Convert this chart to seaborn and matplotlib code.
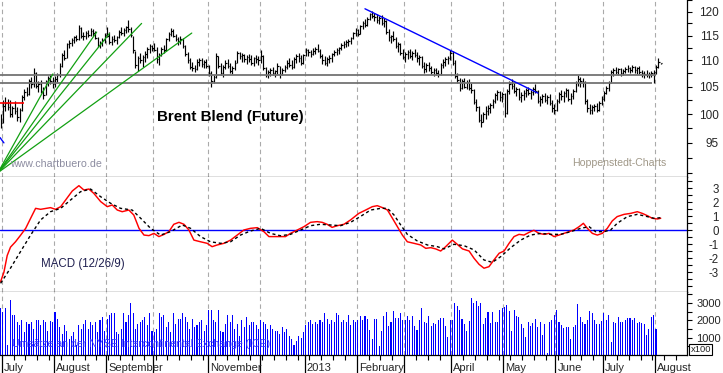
import matplotlib
matplotlib.use("Agg")
import matplotlib.pyplot as plt
import matplotlib.transforms as mtransforms
from matplotlib.ticker import FixedLocator, NullFormatter, FixedFormatter
import seaborn as sns
import numpy as np

sns.set_style("white")
plt.rcParams['font.family'] = ['Liberation Sans', 'DejaVu Sans']

# daily bars, Brent Blend future, end of June 2012 to start of August 2013
high = [
    100.0, 102.5, 103.0, 102.8, 102.5, 101.5, 102.3, 101.2, 101.0, 103.5,
    104.5, 105.0, 106.5, 106.8, 108.5, 107.8, 106.0, 106.2, 105.0, 106.2,
    107.0, 107.3, 106.8, 107.0, 107.5, 109.5, 111.5, 112.0, 113.5, 114.0,
    114.5, 115.0, 115.2, 117.2, 116.8, 115.8, 116.0, 116.2, 116.5, 116.3,
    116.0, 114.6, 113.8, 114.5, 115.5, 116.8, 115.8, 114.8, 115.2, 115.0,
    116.2, 116.8, 116.5, 117.0, 118.2, 116.8, 115.0, 111.8, 110.8, 111.5,
    111.0, 111.8, 112.6, 113.2, 113.0, 113.5, 112.6, 111.5, 112.6, 113.0,
    114.5, 115.8, 116.5, 116.3, 115.4, 114.6, 114.8, 114.5, 113.0, 111.6,
    110.4, 109.8, 109.2, 110.2, 110.5, 110.4, 110.0, 110.3, 109.2, 108.0,
    107.2, 111.5, 110.8, 109.6, 109.2, 110.0, 110.2, 109.6, 109.0, 110.0,
    111.8, 111.6, 111.4, 111.2, 111.0, 111.2, 111.0, 110.6, 111.0, 110.8,
    112.0, 111.0, 108.8, 108.2, 108.6, 108.8, 108.2, 109.6, 109.0, 108.6,
    109.2, 110.0, 110.4, 110.0, 110.6, 111.2, 111.4, 111.0, 111.2, 112.4,
    112.2, 112.0, 112.4, 112.6, 113.2, 112.2, 111.2, 110.8, 110.6, 111.0,
    111.4, 112.0, 112.4, 112.6, 113.4, 113.8, 114.0, 114.2, 114.6, 115.8,
    116.6, 116.4, 117.2, 118.0, 118.4, 118.8, 119.8, 120.2, 119.6, 119.4,
    119.0, 119.2, 118.6, 118.2, 116.4, 115.2, 116.0, 114.6, 113.6, 113.4,
    112.2, 111.6, 112.0, 112.2, 111.8, 112.2, 111.6, 111.0, 110.8, 109.8,
    109.6, 109.8, 109.0, 108.6, 108.6, 108.2, 109.6, 110.2, 110.6, 110.8,
    112.0, 111.8, 110.0, 107.6, 106.6, 106.4, 106.6, 106.2, 106.4, 105.6,
    104.6, 102.8, 101.4, 100.0, 100.4, 101.4, 101.6, 102.0, 102.8, 103.8,
    104.4, 104.2, 104.0, 103.8, 104.6, 106.0, 106.4, 105.6, 105.0, 104.8,
    104.0, 104.4, 104.8, 105.0, 104.4, 105.0, 105.4, 104.4, 103.2, 103.6,
    103.8, 103.4, 103.6, 102.6, 101.8, 102.8, 104.0, 104.4, 104.2, 104.8,
    104.6, 103.8, 104.6, 106.0, 107.2, 106.8, 106.6, 106.0, 102.8, 101.8,
    101.6, 101.8, 102.0, 102.4, 103.2, 104.2, 105.2, 106.0, 108.2, 108.6,
    108.8, 108.6, 108.6, 108.4, 108.8, 109.2, 108.8, 109.2, 109.0, 108.8,
    109.0, 108.2, 108.0, 108.2, 107.8, 108.0, 108.2, 109.2, 110.4, 109.6,
]
low = [
    97.5, 98.5, 100.5, 100.8, 99.5, 99.5, 100.0, 98.8, 98.6, 100.5,
    102.5, 103.2, 103.5, 104.8, 105.0, 104.8, 104.0, 103.8, 102.8, 103.5,
    105.2, 105.5, 104.8, 105.0, 105.8, 106.8, 108.8, 110.0, 110.5, 112.5,
    112.8, 113.5, 113.8, 114.0, 114.5, 114.0, 114.3, 114.6, 114.8, 115.0,
    114.2, 112.6, 112.5, 112.8, 113.5, 114.6, 113.2, 113.0, 113.6, 113.2,
    114.4, 115.2, 114.8, 115.6, 115.8, 114.6, 111.5, 108.5, 108.0, 109.5,
    108.8, 109.8, 110.5, 111.5, 111.8, 111.8, 109.5, 109.2, 110.8, 111.5,
    111.8, 113.8, 114.8, 114.6, 113.8, 113.0, 113.2, 112.4, 110.8, 109.6,
    108.3, 108.0, 107.8, 108.2, 109.0, 108.8, 108.5, 108.6, 107.0, 105.0,
    105.6, 106.6, 108.5, 107.2, 106.8, 108.3, 108.6, 107.5, 107.4, 108.2,
    109.5, 110.2, 109.8, 109.8, 109.4, 109.8, 109.2, 109.0, 109.6, 109.2,
    109.6, 108.2, 106.8, 106.6, 107.0, 107.2, 106.8, 107.4, 106.6, 107.2,
    107.8, 108.4, 108.8, 108.4, 108.6, 109.6, 109.8, 109.2, 109.4, 110.8,
    110.8, 110.6, 111.0, 111.2, 111.6, 110.4, 109.4, 109.2, 109.0, 109.6,
    109.8, 110.8, 111.0, 111.2, 112.0, 112.4, 112.6, 112.8, 113.2, 114.2,
    115.0, 114.8, 115.4, 116.4, 116.8, 117.0, 118.2, 118.6, 118.0, 117.6,
    117.4, 117.2, 116.8, 115.4, 113.8, 113.4, 113.8, 112.4, 111.6, 111.0,
    110.2, 109.8, 110.2, 110.4, 110.0, 110.6, 109.8, 109.2, 108.6, 107.6,
    107.8, 108.0, 107.4, 107.0, 107.2, 106.8, 107.2, 108.6, 109.0, 109.4,
    110.0, 109.2, 106.6, 105.6, 104.2, 104.6, 104.8, 104.6, 104.4, 103.8,
    101.8, 100.6, 98.6, 97.8, 98.6, 99.2, 99.8, 100.2, 101.0, 102.0,
    102.6, 102.4, 102.2, 99.4, 100.0, 103.6, 104.6, 103.8, 103.2, 102.6,
    102.2, 102.6, 103.0, 103.4, 102.8, 103.4, 103.8, 102.0, 101.4, 102.0,
    102.2, 101.8, 101.6, 100.4, 100.0, 100.6, 102.0, 102.6, 102.2, 103.0,
    102.4, 101.8, 102.8, 104.0, 105.2, 105.0, 105.0, 101.8, 100.4, 100.0,
    100.0, 100.6, 100.4, 100.6, 101.6, 102.4, 103.6, 104.2, 105.6, 107.0,
    107.4, 107.2, 107.0, 107.2, 107.6, 107.8, 107.6, 107.8, 107.6, 107.4,
    107.4, 106.8, 106.6, 106.8, 106.6, 106.8, 105.6, 107.4, 108.6, 109.4,
]
close = [
    98.5, 101.5, 102.0, 101.2, 100.0, 101.0, 100.5, 99.5, 100.8, 103.0,
    104.0, 103.6, 106.0, 105.5, 107.5, 105.2, 105.5, 104.2, 103.5, 106.0,
    106.6, 106.0, 105.4, 106.5, 107.2, 109.0, 111.0, 110.5, 113.2, 113.5,
    114.0, 114.6, 114.2, 116.5, 115.0, 114.8, 115.6, 115.2, 116.0, 115.5,
    114.5, 113.0, 113.4, 114.0, 115.2, 115.0, 113.6, 114.3, 114.0, 114.6,
    115.8, 115.6, 116.2, 116.8, 116.3, 115.2, 112.0, 109.2, 110.4, 110.0,
    110.6, 111.3, 112.2, 112.8, 112.4, 112.0, 110.2, 111.0, 112.2, 112.0,
    114.2, 115.3, 115.9, 115.0, 114.2, 113.9, 114.3, 112.8, 111.2, 110.0,
    108.8, 108.6, 108.4, 109.8, 110.0, 109.4, 109.7, 109.0, 107.5, 106.0,
    106.8, 110.8, 109.0, 107.6, 108.8, 109.5, 109.0, 107.9, 108.6, 109.6,
    111.4, 110.8, 111.0, 110.2, 110.6, 110.3, 109.6, 110.4, 110.2, 110.0,
    110.9, 108.6, 107.2, 107.8, 108.2, 107.5, 107.9, 109.0, 107.4, 108.2,
    108.8, 109.6, 109.2, 108.8, 110.2, 110.9, 110.4, 109.6, 111.0, 112.0,
    111.6, 111.2, 111.8, 112.2, 111.9, 110.8, 110.0, 109.6, 110.3, 110.5,
    111.2, 111.6, 112.0, 112.4, 113.0, 113.2, 113.6, 113.8, 114.4, 115.5,
    116.2, 115.4, 116.9, 117.6, 117.2, 118.4, 119.4, 119.0, 118.8, 118.2,
    118.6, 117.6, 118.0, 115.8, 114.6, 114.8, 114.2, 112.8, 113.2, 111.4,
    110.6, 111.2, 111.6, 110.8, 111.4, 111.0, 110.4, 110.6, 109.0, 108.4,
    109.2, 108.6, 107.8, 108.2, 107.6, 107.4, 109.2, 109.8, 110.2, 110.4,
    111.5, 109.6, 107.0, 106.2, 104.8, 106.0, 105.0, 105.8, 104.8, 104.4,
    102.2, 101.2, 99.0, 98.6, 100.0, 100.6, 101.0, 101.6, 102.4, 103.4,
    104.0, 103.0, 103.6, 100.2, 104.2, 105.4, 105.2, 104.2, 104.6, 103.0,
    103.4, 103.8, 104.4, 103.8, 104.0, 104.6, 104.2, 102.4, 102.8, 103.2,
    102.6, 103.0, 102.0, 101.0, 100.8, 102.4, 103.6, 103.2, 103.8, 104.4,
    102.8, 103.2, 104.2, 105.6, 106.4, 106.0, 105.8, 102.4, 101.0, 100.8,
    101.2, 101.4, 100.8, 102.0, 102.8, 103.8, 104.8, 105.6, 107.8, 108.2,
    107.8, 108.4, 107.6, 108.0, 108.4, 108.6, 108.2, 108.8, 108.2, 108.6,
    107.8, 107.6, 107.4, 107.2, 107.4, 107.6, 107.8, 108.8, 109.8, 109.5,
]
# turnover in units of 100 contracts
volume = [
    2700,
    2500, 2700, 600, 3150, 2300, 2300, 1900, 1700, 2000, 1300, 1900, 1800, 1900, 1500, 2000, 2000, 1700, 2000, 1900, 1400, 1950, 1900,
    2500, 2100, 1600, 1200, 1700, 1400, 900, 1100, 1300, 600, 1700, 1500, 1800, 2000, 1500, 1900, 1700, 1900, 1300, 2000, 2200, 1400,
    2100, 2300, 2400, 2400, 1300, 1200, 1500, 2400, 1900, 2300, 3000, 2400, 1500, 1800, 1900, 2000, 2200, 1700, 2400, 1400,
    1300, 1500, 2400, 2200, 2300, 1600, 1900, 1300, 2400, 1800, 2100, 2100, 2400, 2200, 1900, 1500, 2100, 1600, 1700, 1900, 2000, 1400, 1700,
    2600, 2600, 2000, 1900, 2600, 1400, 1300, 1800, 2300, 1900, 2300, 1500, 1800, 1100, 2000, 1600, 2200, 1700, 1900, 1900, 1700, 1500,
    2000, 1900, 1800, 1500, 1700, 1500, 1400, 1400, 1200, 1600, 1300, 1500, 1100, 900, 600, 800, 1100, 1000, 1300,
    1700, 1900, 2000, 1800, 1900, 1800, 2000, 1900, 2400, 2100, 1800, 2000, 1900, 2400, 2300, 1900, 2000, 1900, 2300, 1700, 2000, 1900,
    2000, 2250, 2000, 2250, 2090, 1420, 940, 2090, 2090, 540, 1360, 2220, 2500, 1690, 1930, 2560, 2160, 2160, 2430, 1990,
    1990, 2220, 1990, 2260, 1680, 1460, 1990, 2730, 1880, 1840, 2270, 1680, 1840, 1780, 2030, 2120, 2160, 1650, 1040, 2000,
    1990, 3020, 2830, 2600, 2070, 1780, 1360, 1970, 3300, 2980, 3120, 2840, 3020, 1800, 2120, 2450, 1870, 2450, 1930, 1930, 2600, 2700,
    2750, 2880, 2560, 1360, 2600, 2260, 2180, 1780, 1550, 1020, 1930, 1650, 1870, 2060, 1630, 1900, 1150, 1810, 120, 1930, 2030, 2320,
    2600, 1930, 1730, 1550, 1600, 1590, 900, 1590, 1730, 2930, 2180, 1910, 1790, 2010, 2540, 2400, 2000, 1800, 1800, 1950,
    2400, 2000, 2300, 740, 1880, 1830, 2170, 1930, 1930, 2000, 2120, 2120, 1990, 2120, 1870, 1930, 1840, 1800, 1170, 1490, 2180, 2310,
    1500, 0, 0,
]

# MACD (12/26/9), by bar number
macd_bar = [0, 1.4, 2.8, 4.2, 6.3, 8.5, 10.6, 12.7, 14.8, 16.9, 21.1, 23.2, 25.4, 27.5, 30.3, 33.1,
            35.2, 37.3, 39.4, 42.3, 45.1, 47.2, 49.3, 51.4, 54.2, 56.3, 58.5, 60.6, 62.7, 64.8,
            66.9, 69.0, 71.1, 73.2, 75.4, 77.5, 79.6, 81.7, 84.5, 87.3, 89.4, 91.5, 94.4, 97.2,
            100.0, 102.8, 105.6, 108.5, 111.3, 113.4, 116.9, 120.4, 122.5, 125.4, 128.2, 131.0,
            133.8, 135.9, 138.0, 140.1, 142.3, 145.1, 147.9, 151.4, 154.3, 157.1, 159.2, 161.4,
            163.5, 165.6, 167.7, 169.8, 171.9, 174.7, 177.6, 179.7, 181.8, 183.9, 186.0, 188.1,
            190.9, 193.0, 195.2, 198.0, 200.1, 202.2, 204.3, 206.4, 208.5, 210.7, 212.8, 214.9,
            217.0, 219.1, 221.2, 223.3, 225.4, 227.6, 229.7, 231.8, 233.9, 236.0, 238.1, 240.2,
            242.3, 244.5, 246.3, 248.0, 250.1, 252.2, 254.3, 256.4, 258.5, 260.6, 263.5, 266.3,
            269.1, 271.2, 273.3, 275.4, 277.6, 279.0]
macd_val = [-3.67, -3.0, -1.8, -1.2, -0.82, -0.34, 0.14, 0.86, 1.57, 1.5, 1.62, 1.5, 1.69, 2.17, 2.81, 3.19,
            2.88, 2.95, 2.64, 2.05, 1.69, 1.81, 1.45, 1.33, 1.45, 1.09, 0.14, -0.34, -0.38, -0.22,
            -0.45, -0.3, -0.1, 0.43, 0.57, 0.43, 0.02, -0.7, -0.82, -0.93, -1.17, -1.05, -0.93, -0.7,
            -0.34, 0.02, 0.14, 0.19, -0.1, -0.45, -0.45, -0.45, -0.22, 0.02, 0.26, 0.57,
            0.62, 0.57, 0.43, 0.21, 0.33, 0.43, 0.74, 1.21, 1.45, 1.69, 1.76, 1.62,
            1.45, 0.86, 0.26, -0.34, -0.82, -0.93, -1.05, -1.29, -1.24, -1.33, -1.48, -1.17,
            -0.7, -1.0, -1.33, -1.48, -2.0, -2.43, -2.71, -2.6, -2.12, -1.64, -1.48, -0.93,
            -0.45, -0.29, -0.34, -0.15, 0.0, -0.22, -0.29, -0.22, -0.45, -0.34, -0.22, -0.1,
            0.02, 0.26, 0.5, 0.14, -0.22, -0.34, -0.22, 0.14, 0.67, 0.98, 1.14, 1.21,
            1.33, 1.21, 1.05, 0.86, 0.81, 0.86]
signal_bar = [0, 4.2, 8.5, 12.7, 16.9, 21.1, 25.4, 29.6, 33.8, 38.0, 42.3, 46.5, 50.7, 55.6, 59.2,
              63.4, 67.6, 71.8, 76.8, 80.3, 84.5, 88.7, 93.0, 97.2, 101.4, 105.6, 109.9, 114.1,
              118.3, 122.5, 126.8, 131.0, 135.2, 139.4, 143.7, 147.9, 152.2, 156.4, 160.7, 163.5,
              166.3, 169.1, 171.9, 176.1, 180.4, 184.6, 187.4, 191.6, 195.9, 200.1, 204.3, 207.8,
              211.4, 215.6, 219.8, 224.0, 228.3, 232.5, 236.7, 240.9, 245.2, 248.7, 251.5, 255.0,
              257.8, 260.6, 264.9, 269.1, 273.3, 276.1, 279.0]
signal_val = [-3.79, -2.7, -1.5, -0.34, 0.74, 1.33, 1.57, 2.17, 2.76, 2.95, 2.4, 1.93, 1.57, 1.45, 0.86,
              0.14, -0.34, -0.1, 0.38, 0.14, -0.45, -0.82, -0.93, -0.82, -0.34, -0.05, 0.14, -0.22,
              -0.39, -0.29, 0.02, 0.33, 0.43, 0.38, 0.33, 0.57, 1.0, 1.45, 1.57, 1.57,
              1.09, 0.38, -0.29, -0.76, -1.05, -1.17, -1.33, -1.0, -1.1, -1.4, -2.12, -2.29,
              -1.88, -1.24, -0.7, -0.34, -0.22, -0.29, -0.29, -0.1, 0.14, 0.26, -0.1, -0.1,
              0.02, 0.5, 0.98, 1.14, 0.98, 0.86, 0.9]

# first bar of each month and its label ("" where the label is left out)
month_start = [1, 23, 45, 65, 88, 110, 129, 151, 171, 191, 213, 235, 255, 277]
month_label = ["July", "August", "September", "", "November", "", "2013",
               "February", "", "April", "May", "June", "July", "August"]

price_ticks = [95, 100, 105, 110, 115, 120]
macd_ticks = [-3, -2, -1, 0, 1, 2, 3]
vol_ticks = [1000, 2000, 3000]

# drawn-in analysis lines, in (bar, price)
support_levels = [107.1, 105.6]
support_end = [276.9, 275.2]
fan_origin = (-1.1, 90.1)
fan_ends = [(22.1, 107.4), (40.6, 115.7), (46.0, 115.4), (59.6, 117.5), (80.8, 115.5)]
blue_trend = [(154.0, 120.6), (227.1, 103.8)]
red_level = (102.0, 10.0)

W, H = 723, 373
fig = plt.figure(figsize=(W / 100, H / 100), dpi=100)


def px_axes(x0, y0, x1, y1):
    return fig.add_axes([x0 / W, 1 - y1 / H, (x1 - x0) / W, (y1 - y0) / H])


ax_p = px_axes(0, 0, 687, 177)
ax_m = px_axes(0, 177, 687, 292)
ax_v = px_axes(0, 292, 687, 355)
bars = np.arange(len(close))
grid_col = '#aaaaaa'

for ax in (ax_p, ax_m, ax_v):
    ax.set_xlim(-0.25, 290.1)
    for m in month_start:
        ax.axvline(m - 0.5, color=grid_col, lw=0.8, ls=(0, (4, 3)), zorder=0)
    for s in ('left', 'top'):
        ax.spines[s].set_visible(False)
    for s in ('right', 'bottom'):
        ax.spines[s].set_color('black')
        ax.spines[s].set_linewidth(0.9)
    ax.yaxis.tick_right()
    ax.tick_params(axis='y', which='both', direction='out', length=3.5, width=0.8,
                   color='black', right=True, left=False, labelright=True, labelleft=False,
                   labelsize=8.3, pad=19.3)
    ax.set_xlabel('')
    ax.set_ylabel('')

# price panel
ax_p.set_yscale('log')
ax_p.set_ylim(89.4, 122.5)
ax_p.vlines(bars, low, high, color='black', lw=0.85)
ax_p.hlines(close, bars, bars + 0.7, color='black', lw=0.85)
for lvl, end in zip(support_levels, support_end):
    ax_p.hlines(lvl, -0.25, end, color='#737373', lw=1.3)
for ex, ey in fan_ends:
    ax_p.plot([fan_origin[0], ex], [fan_origin[1], ey], color='#12a012', lw=0.9)
ax_p.plot([p[0] for p in blue_trend], [p[1] for p in blue_trend], color='#0000ff', lw=1.0)
ax_p.hlines(red_level[0], -0.25, red_level[1], color='#ff0000', lw=1.2)
ax_p.plot([-0.25, 1.4], [95.9, 95.0], color='#0000ff', lw=1.0)
ax_p.yaxis.set_major_locator(FixedLocator(price_ticks))
ax_p.yaxis.set_major_formatter(FixedFormatter([str(t) for t in price_ticks]))
ax_p.yaxis.set_minor_locator(FixedLocator([90, 92.5, 97.5, 102.5, 107.5, 112.5, 117.5, 122.5]))
ax_p.yaxis.set_minor_formatter(NullFormatter())
ax_p.tick_params(axis='y', labelsize=8.5)
ax_p.tick_params(axis='x', bottom=False, labelbottom=False)

# MACD panel
ax_m.axhline(0, color='#0000ff', lw=1.0)
sns.lineplot(x=macd_bar, y=macd_val, ax=ax_m, color='#ff0000', lw=1.05)
sns.lineplot(x=signal_bar, y=signal_val, ax=ax_m, color='black', lw=1.0, linestyle=(0, (2.2, 2)))
ax_m.set_ylim(-4.41, 3.81)
ax_m.set_xlim(-0.25, 290.1)
ax_m.set_yticks(macd_ticks)
ax_m.set_yticklabels([str(t) for t in macd_ticks])
ax_m.yaxis.set_minor_locator(FixedLocator(np.arange(-4, 4, 0.5)))
ax_m.tick_params(axis='x', bottom=False, labelbottom=False)

# volume panel
sns.histplot(x=bars, weights=volume, discrete=True, shrink=0.45, color='#0000ff',
             alpha=1, linewidth=0, ax=ax_v, zorder=2)
ax_v.set_ylim(0, 3630)
ax_v.set_xlim(-0.25, 290.1)
ax_v.set_ylabel('')
ax_v.set_yticks(vol_ticks)
ax_v.set_yticklabels([str(t) for t in vol_ticks])
ax_v.yaxis.set_minor_locator(FixedLocator([500, 1500, 2500, 3500]))
ax_v.tick_params(axis='y', labelsize=8.0, pad=20.8)
ax_v.set_xticks([m - 0.5 for m in month_start])
ax_v.set_xticklabels([])
ax_v.xaxis.set_minor_locator(FixedLocator(np.arange(5.5, 290, 5)))
ax_v.tick_params(axis='x', which='major', bottom=True, direction='out', length=13, width=0.9, color='black')
ax_v.tick_params(axis='x', which='minor', bottom=True, direction='out', length=3.5, width=0.8, color='black')

for lbl in ax_p.get_yticklabels() + ax_m.get_yticklabels() + ax_v.get_yticklabels():
    lbl.set_horizontalalignment('right')

trans = mtransforms.blended_transform_factory(ax_v.transData, ax_v.transAxes)
for m, lab in zip(month_start, month_label):
    if lab:
        ax_v.text(m - 0.5 + 0.9, -0.2, lab, transform=trans, ha='left', va='center',
                  fontsize=8.0, clip_on=False)

ax_v.text(1.005, 0.09, 'x100', transform=ax_v.transAxes, fontsize=6.8, ha='left', va='center',
          bbox=dict(boxstyle='square,pad=0.12', fc='white', ec='black', lw=0.8))


def ftext(x, y, s, **kw):
    return fig.text(x / W, 1 - y / H, s, va='center', ha='left', **kw)


ftext(157, 117.5, 'Brent Blend (Future)', fontsize=10.9, fontweight='bold', color='black')
ftext(10, 164.5, 'www.chartbuero.de', fontsize=7.7, color='#8c8ca0')
ftext(572, 163, 'Hoppenstedt-Charts', fontsize=7.6, color='#a09888')
ftext(41, 263.5, 'MACD (12/26/9)', fontsize=8.3, color='#202050')
ftext(12, 344, 'Umsätze an der NYSE Intercontinental Exchange (ICE)', fontsize=7.6,
      color='#3838ff', zorder=5)

fig.savefig('out.png', dpi=100)
